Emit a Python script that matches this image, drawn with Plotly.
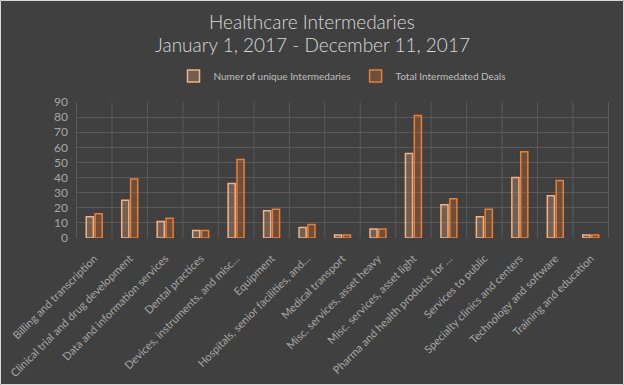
import plotly.graph_objects as go

categories = [
    "Billing and transcription",
    "Clinical trial and drug development",
    "Data and information services",
    "Dental practices",
    "Devices, instruments, and misc…",
    "Equipment",
    "Hospitals, senior facilities, and…",
    "Medical transport",
    "Misc. services, asset heavy",
    "Misc. services, asset light",
    "Pharma and health products for …",
    "Services to public",
    "Specialty clinics and centers",
    "Technology and software",
    "Training and education",
]
unique_intermediaries = [14, 25, 11, 5, 36, 18, 7, 2, 6, 56, 22, 14, 40, 28, 2]
total_deals = [16, 39, 13, 5, 52, 19, 9, 2, 6, 81, 26, 19, 57, 38, 2]
y_ticks = [0, 10, 20, 30, 40, 50, 60, 70, 80, 90]
title_lines = ["Healthcare Intermedaries", "January 1, 2017 - December 11, 2017"]

BG = "#404040"
FONT = "Lato, 'Open Sans', sans-serif"

fig = go.Figure()
fig.add_trace(go.Bar(
    x=categories, y=unique_intermediaries, name="Numer of unique Intermedaries",
    marker=dict(color="rgba(244,177,131,0.28)", line=dict(color="#F4B183", width=1.5)),
))
fig.add_trace(go.Bar(
    x=categories, y=total_deals, name="Total Intermedated Deals",
    marker=dict(color="rgba(237,125,49,0.25)", line=dict(color="#ED7D31", width=1.5)),
))

W, H = 624, 385
L, R, T, B = 76, 15, 102, 147
pw, ph = W - L - R, H - T - B

fig.update_layout(
    width=W, height=H,
    paper_bgcolor=BG, plot_bgcolor=BG,
    margin=dict(l=L, r=R, t=T, b=B, autoexpand=False),
    barmode="group", bargap=0.5, bargroupgap=0.2,
    legend=dict(
        orientation="h", x=0.5, xanchor="center",
        xref="paper", yref="container", y=1 - 76 / H, yanchor="middle",
        font=dict(family=FONT, size=10, color="#bfbfbf"),
        bgcolor="rgba(0,0,0,0)",
        itemwidth=30,
    ),
    font=dict(family=FONT, color="#a6a6a6"),
    xaxis=dict(
        tickangle=-45, tickfont=dict(size=11, color="#a6a6a6"),
        showgrid=False, showline=False, ticks="", automargin=False,
        ticklabelstandoff=11,
    ),
    yaxis=dict(
        range=[0, 90], tickvals=y_ticks, tickfont=dict(size=12, color="#a6a6a6"),
        gridcolor="#595959", gridwidth=1, zeroline=False, showline=False,
        ticks="", ticklabelstandoff=7, automargin=False,
    ),
)

# title lines as annotations (pixel-placed in paper space)
for text, yc in zip(title_lines, [22, 45]):
    fig.add_annotation(
        text=text, xref="paper", yref="paper",
        x=(W / 2 - L) / pw, xanchor="center",
        y=1 + (T - yc) / ph, yanchor="middle",
        showarrow=False,
        font=dict(family=FONT, size=19, color="#d9d9d9", weight=300),
    )

# vertical category gridlines at category boundaries
shapes = []
for i in range(len(categories) + 1):
    shapes.append(dict(
        type="line", xref="x", yref="y", x0=i - 0.5, x1=i - 0.5, y0=0, y1=90,
        line=dict(color="#595959", width=1), layer="below",
    ))
# outer frame
shapes.append(dict(
    type="rect", xref="paper", yref="paper",
    x0=-L / pw + 0.5 / pw, x1=1 + R / pw - 0.5 / pw,
    y0=-B / ph + 0.5 / ph, y1=1 + T / ph - 0.5 / ph,
    line=dict(color="#d9d9d9", width=1),
))
fig.update_layout(shapes=shapes)

fig.write_html(
    "out.html",
    config={"displayModeBar": False},
    post_script="document.body.style.margin='0';document.body.style.overflow='hidden';",
)
